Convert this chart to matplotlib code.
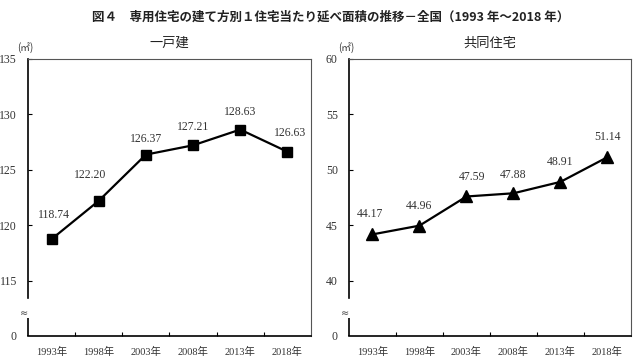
import matplotlib
matplotlib.use("Agg")
import matplotlib.pyplot as plt

years = ["1993年", "1998年", "2003年", "2008年", "2013年", "2018年"]
detached = [118.74, 122.20, 126.37, 127.21, 128.63, 126.63]
apartment = [44.17, 44.96, 47.59, 47.88, 48.91, 51.14]

left_ticks = [115, 120, 125, 130, 135]
right_ticks = [40, 45, 50, 55, 60]

SERIF = ["Liberation Serif", "Noto Sans CJK JP"]
GOTHIC = ["Noto Sans CJK JP", "DejaVu Sans"]

fig = plt.figure(figsize=(6.33, 3.63), dpi=100)
fig.patch.set_facecolor("white")

fig.text(0.522, 0.953, "図４　専用住宅の建て方別１住宅当たり延べ面積の推移－全国（1993 年～2018 年）",
         ha="center", va="center", fontsize=9, fontweight="bold", family=GOTHIC, color="#222222")


def draw_panel(rect, values, ticks, base, title, marker, msize, offsets):
    ax = fig.add_axes(rect)
    x = list(range(len(values)))
    ax.plot(x, values, color="black", lw=1.6, marker=marker, ms=msize, zorder=3)
    for xi, v, (dx, dy) in zip(x, values, offsets):
        ax.annotate(f"{v:.2f}", (xi, v), xytext=(dx, dy), textcoords="offset points",
                    ha="center", va="bottom", fontsize=8.5, family=SERIF, color="#333333")

    top = ticks[-1]
    ax.set_xlim(-0.5, len(values) - 0.5)
    ax.set_ylim(base, top)

    ax.set_yticks([base] + ticks)
    ax.set_yticklabels(["0"] + [str(t) for t in ticks], family=SERIF, fontsize=8.5, color="#333333")
    ax.tick_params(axis="y", direction="in", length=3, width=0.8, pad=8)
    ax.yaxis.get_major_ticks()[0].tick1line.set_visible(False)

    ax.set_xticks(x)
    ax.set_xticklabels(years, family=SERIF, fontsize=7.5, color="#333333")
    ax.set_xticks([i + 0.5 for i in x[:-1]], minor=True)
    ax.tick_params(axis="x", which="major", length=0, pad=8)
    ax.tick_params(axis="x", which="minor", direction="in", length=3, width=0.8)

    for s in ("top", "right"):
        ax.spines[s].set_color("#555555")
        ax.spines[s].set_linewidth(0.8)
    for s in ("left", "bottom"):
        ax.spines[s].set_color("black")
        ax.spines[s].set_linewidth(1.2)

    # broken axis between 0 and the first tick
    step = ticks[1] - ticks[0]
    ax.spines["left"].set_bounds(base + step * 0.68, top)
    ax.plot([-0.5, -0.5], [base, base + step * 0.32], color="black", lw=1.2,
            clip_on=False, solid_capstyle="butt")
    ax.text(-0.5, base + step * 0.42, "≈", ha="right", va="center", fontsize=7,
            color="#444444", transform=ax.transData)

    ax.text(0.5, 1.058, title, transform=ax.transAxes, ha="center", va="center",
            fontsize=9.5, family=GOTHIC, color="#222222")
    ax.text(-0.01, 1.043, "(㎡)", transform=ax.transAxes, ha="center", va="center",
            fontsize=7, family=GOTHIC, color="#333333")
    return ax


left_offsets = [(2, 13), (-6, 14), (0, 7), (0, 9), (0, 8), (2, 9)]
right_offsets = [(-2, 10), (0, 10), (4, 10), (0, 9), (0, 10), (0, 10)]

draw_panel([0.0442, 0.0744, 0.4471, 0.7631], detached, left_ticks, 110, "一戸建", "s", 7.5, left_offsets)
draw_panel([0.5513, 0.0744, 0.4455, 0.7631], apartment, right_ticks, 35, "共同住宅", "^", 8, right_offsets)

fig.savefig("out.png", dpi=100)
